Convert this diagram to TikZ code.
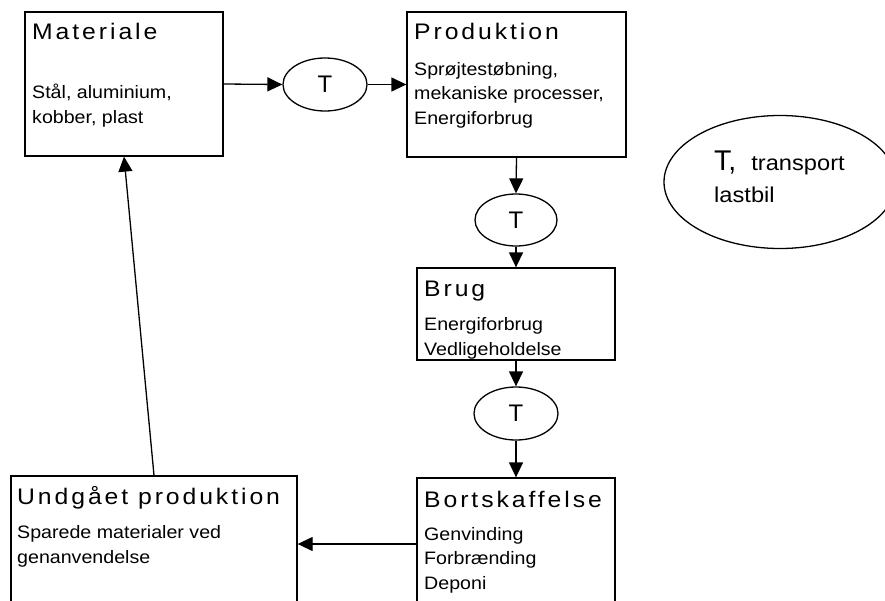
\documentclass[tikz,border=0pt]{standalone}
\usepackage{fontspec}
\setmainfont{Liberation Sans}
\newfontfamily\ttlfont[LetterSpace=13,FakeStretch=1.1]{Liberation Sans}
\newfontfamily\bodyfont[FakeStretch=1.09]{Liberation Sans}
\newfontfamily\legfont[FakeStretch=1.1]{Liberation Sans}
\usetikzlibrary{shapes.geometric,arrows.meta}
\tikzset{
  box/.style={draw, line width=1.3pt, rectangle, inner sep=0pt},
  tell/.style={draw, line width=1.3pt, ellipse, inner sep=0pt, minimum width=84pt, minimum height=53pt, font=\fontsize{24}{26}\selectfont},
  ttl/.style={anchor=base west, inner sep=0pt, font=\ttlfont\fontsize{22.5}{25}\selectfont},
  body/.style={anchor=base west, inner sep=0pt, align=left, font=\bodyfont\fontsize{18}{24.5}\selectfont},
  arr/.style={line width=1.3pt, -{Triangle[length=15pt,width=14pt]}}
}
\begin{document}
\begin{tikzpicture}[x=1pt,y=-1pt]
\useasboundingbox (0,0) rectangle (885,600);
\clip (0,0) rectangle (885,600);
% boxes
\node[box, minimum width=198pt, minimum height=144pt] (mat) at (124,84) {};
\node[box, minimum width=219pt, minimum height=145pt] (prod) at (516.5,84.5) {};
\node[box, minimum width=198pt, minimum height=92pt] (brug) at (516,314) {};
\node[box, minimum width=198pt, minimum height=142pt] (bort) at (516,549) {};
\node[box, minimum width=286pt, minimum height=144pt] (undg) at (154,548) {};
% transport ellipses
\node[tell] (t1) at (325,84.5) {T};
\node[tell, minimum width=82pt, minimum height=52pt] (t2) at (516,220) {T};
\node[tell] (t3) at (516,413.5) {T};
\node[draw, line width=1.3pt, ellipse, inner sep=0pt, minimum width=232pt, minimum height=133pt] (legend) at (780,182) {};
% texts (body nodes anchored at the baseline of their last line)
\node[ttl] (matT) at (32,39) {Materiale};
\node[body] (matB) at (32,123) {Stål, aluminium,\\kobber, plast};
\node[ttl] (prodT) at (414,39) {Produktion};
\node[body] (prodB) at (414,124) {Sprøjtestøbning,\\mekaniske processer,\\Energiforbrug};
\node[ttl] (brugT) at (424,296) {Brug};
\node[body] (brugB) at (424,355) {Energiforbrug\\Vedligeholdelse};
\node[ttl] (bortT) at (424,507) {Bortskaffelse};
\node[body] (bortB) at (424,589) {Genvinding\\Forbrænding\\Deponi};
\node[ttl] (undgT) at (17,504) {Undgået produktion};
\node[body] (undgB) at (17,563) {Sparede materialer ved\\genanvendelse};
\node[anchor=base west, inner sep=0pt] (legT) at (714,170.7) {{\fontsize{28.5}{30}\selectfont T,}\kern15pt{\legfont\fontsize{21.5}{25}\selectfont transport}};
\node[anchor=base west, inner sep=0pt, font=\legfont\fontsize{21.5}{25}\selectfont] (legB) at (714,202.7) {lastbil};
% connectors
\draw[arr] (mat.east) -- (t1.west);
\draw[arr] (t1.east) -- (prod.west);
\draw[arr] (prod.south) -- (t2.north);
\draw[arr] (t2.south) -- (brug.north);
\draw[arr] (brug.south) -- (t3.north);
\draw[arr] (t3.south) -- (bort.north);
\draw[arr] ([yshift=5pt]bort.west) -- ([yshift=5pt]bort.west -| undg.east);
\draw[arr] (undg.north) -- (mat.south);
\end{tikzpicture}
\end{document}
